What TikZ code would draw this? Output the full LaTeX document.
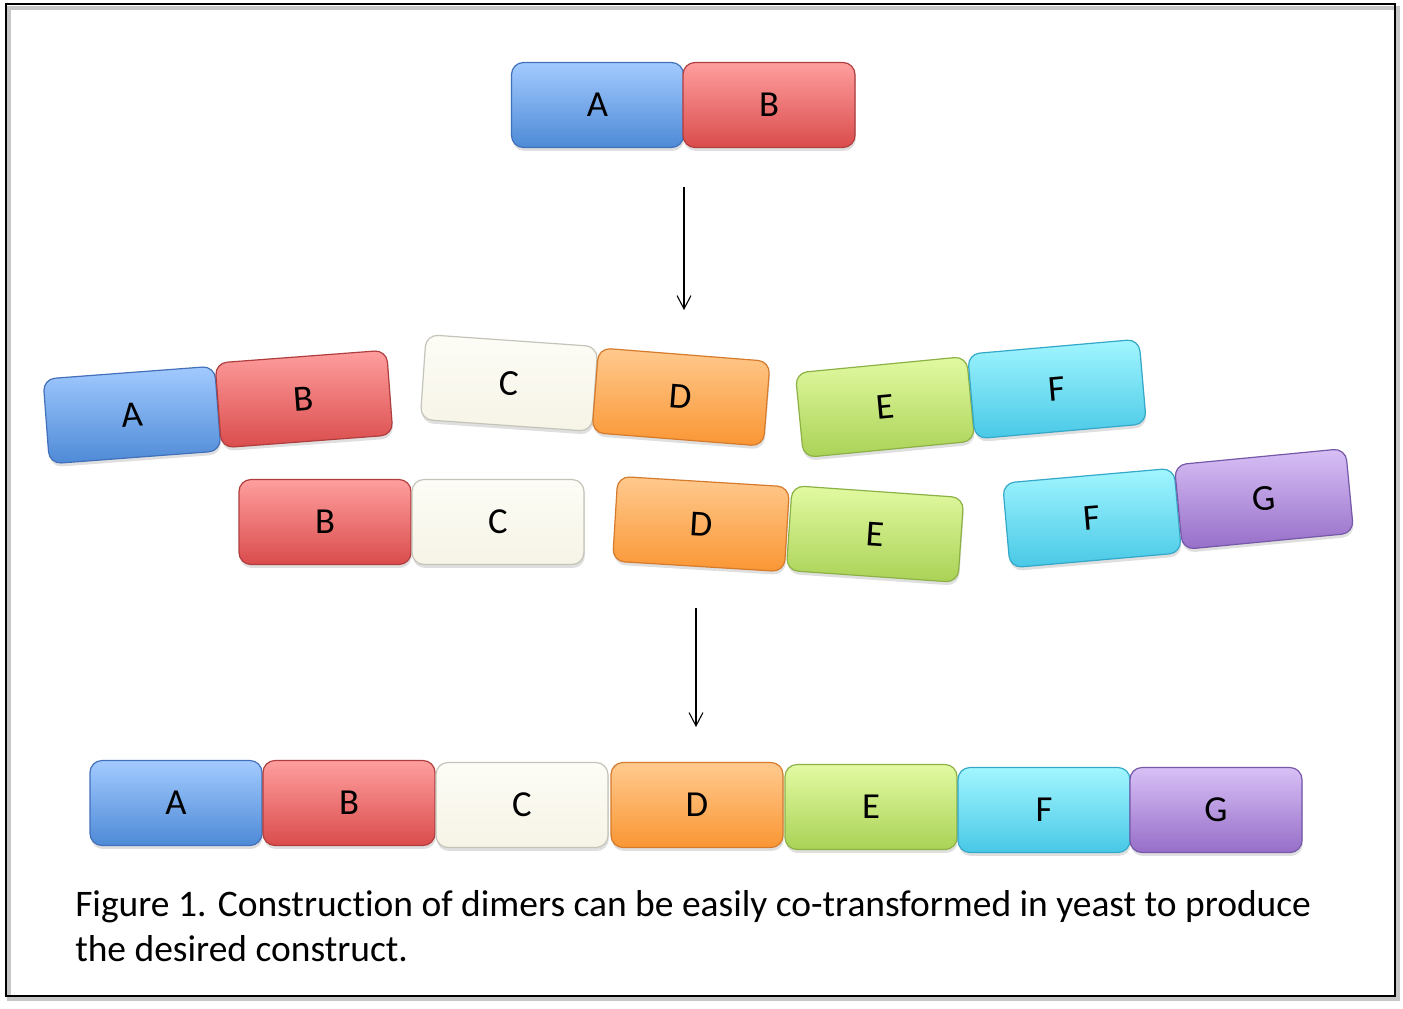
\documentclass[tikz,border=0pt]{standalone}
\usepackage{fontspec}
\setmainfont{Carlito}[Ligatures=NoCommon]
\usetikzlibrary{arrows.meta,shadows}
\definecolor{bluT}{RGB}{162,202,255}
\definecolor{bluB}{RGB}{78,138,214}
\definecolor{bluD}{RGB}{66,112,186}
\definecolor{redT}{RGB}{255,158,158}
\definecolor{redB}{RGB}{218,76,76}
\definecolor{redD}{RGB}{176,62,62}
\definecolor{crmT}{RGB}{253,252,246}
\definecolor{crmB}{RGB}{246,244,230}
\definecolor{crmD}{RGB}{196,196,186}
\definecolor{orgT}{RGB}{255,202,142}
\definecolor{orgB}{RGB}{250,150,52}
\definecolor{orgD}{RGB}{214,122,44}
\definecolor{grnT}{RGB}{226,250,162}
\definecolor{grnB}{RGB}{170,210,86}
\definecolor{grnD}{RGB}{140,178,70}
\definecolor{cynT}{RGB}{162,246,255}
\definecolor{cynB}{RGB}{72,200,230}
\definecolor{cynD}{RGB}{52,168,200}
\definecolor{prpT}{RGB}{216,192,246}
\definecolor{prpB}{RGB}{150,110,200}
\definecolor{prpD}{RGB}{118,88,168}
\begin{document}
\begin{tikzpicture}[x=0.75pt,y=-0.75pt,
  piece/.style={rectangle, rounded corners=9pt, minimum width=129pt, minimum height=63.75pt,
    inner sep=0pt, font=\fontsize{27.5}{30}\selectfont, line width=0.9pt,
    drop shadow={opacity=0.25, shadow xshift=0.6pt, shadow yshift=-2.6pt}},
  blu/.style={piece, draw=bluD, top color=bluT, bottom color=bluB},
  rd/.style={piece, draw=redD, top color=redT, bottom color=redB},
  crm/.style={piece, draw=crmD, top color=crmT, bottom color=crmB},
  org/.style={piece, draw=orgD, top color=orgT, bottom color=orgB},
  grn/.style={piece, draw=grnD, top color=grnT, bottom color=grnB},
  cyn/.style={piece, draw=cynD, top color=cynT, bottom color=cynB},
  prp/.style={piece, draw=prpD, top color=prpT, bottom color=prpB},
  arr/.style={line width=0.8pt, -{Straight Barb[length=10pt,width=10.5pt]}}
]
\fill[white] (0,0) rectangle (1403,1008);
\useasboundingbox (0,0) rectangle (1403,1008);
% frame
\draw[black!22, line width=3pt] (9,8) rectangle (1398,999);
\draw[black, line width=1.5pt] (6,4) rectangle (1395,996);

% top dimer
\node[blu] (tA) at (597.5,105) {A};
\node[rd]  (tB) at (769,105) {B};

% scattered dimers, first line
\node[blu, rotate=4.3] (mA) at (132,415) {A};
\node[rd,  rotate=4.3] (mB) at (304,399) {B};
\node[crm, rotate=-4]  (mC) at (509,383) {C};
\node[org, rotate=-4.5] (mD) at (681,397) {D};
\node[grn, rotate=5.5] (mE) at (885,407) {E};
\node[cyn, rotate=5]   (mF) at (1057,389) {F};

% second line
\node[rd]  (nB) at (325,522) {B};
\node[crm] (nC) at (498,522) {C};
\node[org, rotate=-3.5] (nD) at (701,524) {D};
\node[grn, rotate=-4]   (nE) at (875,534) {E};
\node[cyn, rotate=5]    (nF) at (1092,518) {F};
\node[prp, rotate=5.5]  (nG) at (1264,499) {G};

% final construct
\node[blu] (bA) at (176,803) {A};
\node[rd]  (bB) at (349,803) {B};
\node[crm] (bC) at (522,805) {C};
\node[org] (bD) at (697,805) {D};
\node[grn] (bE) at (871,807) {E};
\node[cyn] (bF) at (1044,810) {F};
\node[prp] (bG) at (1216,810) {G};

% arrows
\coordinate (a1s) at (684,187);
\coordinate (a1e) at (684,310);
\coordinate (a2s) at (696,608);
\coordinate (a2e) at (696,727);
\draw[arr] (a1s) -- (a1e);
\draw[arr] (a2s) -- (a2e);

% caption
\node[anchor=base west, align=left, inner sep=0pt, font=\fontsize{28.1}{33.75}\selectfont] (cap)
  at (75,961) {Figure 1. Construction of dimers can be easily co-transformed in yeast to produce\\the desired construct.};
\end{tikzpicture}
\end{document}
